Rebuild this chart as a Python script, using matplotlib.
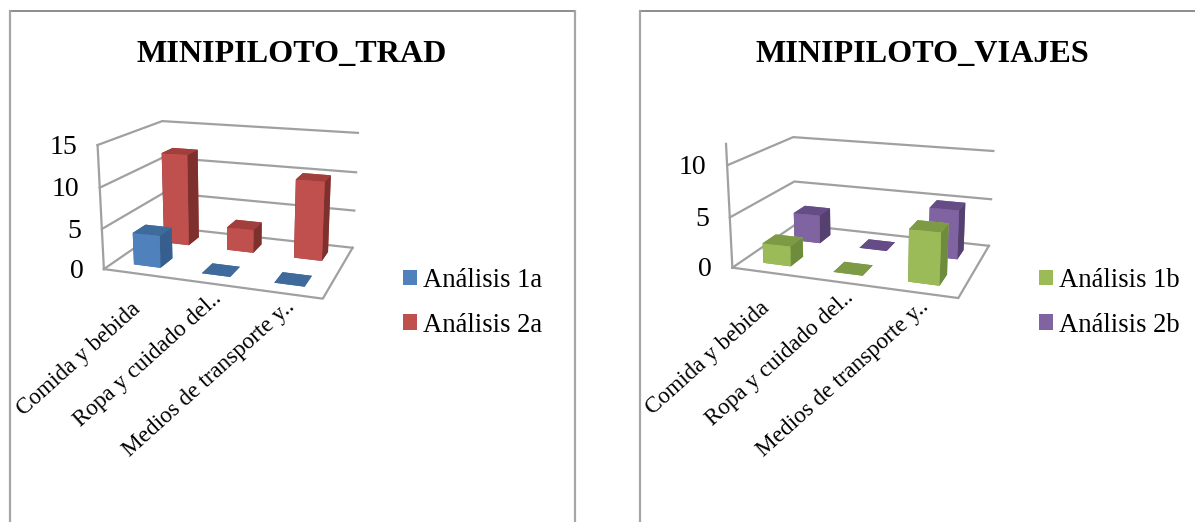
import matplotlib
matplotlib.use('Agg')
import matplotlib.pyplot as plt
from matplotlib.lines import Line2D
from matplotlib.patches import Patch
from mpl_toolkits.mplot3d import proj3d

plt.rcParams['font.family'] = ['Liberation Serif', 'DejaVu Serif']

W, H = 1195, 522

categories = ['Comida y bebida', 'Ropa y cuidado del..', 'Medios de transporte y..']

trad_titulo = 'MINIPILOTO_TRAD'
trad_series = ['Análisis 1a', 'Análisis 2a']
trad_1a = [4, 0, 0]
trad_2a = [12, 3, 10]
trad_ticks = [0, 5, 10, 15]
trad_max = 15

viajes_titulo = 'MINIPILOTO_VIAJES'
viajes_series = ['Análisis 1b', 'Análisis 2b']
viajes_1b = [2, 0, 5]
viajes_2b = [3, 0, 5]
viajes_ticks = [0, 5, 10]
viajes_max = 12

# front, top, side
BLUE = ('#4F81BD', '#3F6A9C', '#365E8E')
RED = ('#C0504D', '#A23F3D', '#7E302E')
GREEN = ('#9BBB59', '#7D9A44', '#6F8B3C')
PURPLE = ('#8064A2', '#654C87', '#55406F')

GRID = '#A0A0A0'
BAR_W = 0.4
PX = 0.72  # points per pixel at 100 dpi

# label end relative to its tick, in pixels
LABEL_SHIFT = [(0, -33), (11, -13), (9, -11)]


def face_colors(shades, n):
    front, top, side = shades
    # bar3d face order: -z, +z, -y, +y, -x, +x
    return [top, top, front, front, side, side] * n


def draw_chart(fig, rect_px, box_h, titulo, title_x, series, values, shades, ticks, zmax, leg_x):
    left_px, bottom_px, size = rect_px
    ax = fig.add_axes([left_px / W, bottom_px / H, size / W, size / H], projection='3d')
    ax.computed_zorder = False
    ax.set_axis_off()
    ax.patch.set_alpha(0)

    # walls and floor
    for t in ticks:
        ax.plot([0, 0, 3], [0, 2, 2], [t, t, t], color=GRID, lw=1.6, zorder=1)
    ax.plot([0, 3, 3], [0, 0, 2], [0, 0, 0], color=GRID, lw=1.6, zorder=1)
    ax.plot([0, 0], [0, 0], [0, zmax], color=GRID, lw=1.6, zorder=1)

    # back row first, so the front row covers it
    for row in [1, 0]:
        vals = values[row]
        xs = [i + 0.5 - BAR_W / 2 for i in range(len(vals))]
        ys = [row + 0.5 - BAR_W / 2] * len(vals)
        zs = [0] * len(vals)
        ax.bar3d(xs, ys, zs, BAR_W, BAR_W, vals, color=face_colors(shades[row], len(vals)),
                 shade=False, linewidth=0, zorder=3 - row + 1)

    ax.set_xlim(0, 3)
    ax.set_ylim(0, 2)
    ax.set_zlim(0, zmax)
    ax.set_box_aspect((219, 144, box_h))
    ax.view_init(elev=15.6, azim=-70.6)
    ax.set_proj_type('persp', focal_length=0.48)

    M = ax.get_proj()
    for t in ticks:
        px, py, _ = proj3d.proj_transform(0, 0, t, M)
        ax.annotate(str(t), (px, py), xytext=(-20.5 * PX, -2 * PX), textcoords='offset points',
                    ha='right', va='center', fontsize=20)
    # Text3D ignores rotation, so the category labels go on in 2D at the projected position
    for i, cat in enumerate(categories):
        px, py, _ = proj3d.proj_transform(i + 0.5, 0, 0, M)
        dx, dy = LABEL_SHIFT[i]
        ax.annotate(cat, (px, py), xytext=(dx * PX, dy * PX), textcoords='offset points',
                    rotation=42, rotation_mode='anchor', ha='right', va='center', fontsize=16.7)

    fig.text(title_x / W, 1 - 55 / H, titulo, ha='center', va='center',
             fontsize=23.1, fontweight='bold')

    handles = [Patch(facecolor=shades[k][0], edgecolor='none', label=series[k]) for k in range(2)]
    fig.legend(handles=handles, loc='upper left', bbox_to_anchor=(leg_x / W, 1 - 268 / H),
               frameon=False, fontsize=19.2, borderpad=0, borderaxespad=0,
               handlelength=0.53, handleheight=0.53, handletextpad=0.22, labelspacing=0.74)


def main():
    fig = plt.figure(figsize=(W / 100, H / 100), dpi=100, facecolor='white')

    # chart frames, open at the bottom
    top = dict(color='#8C8C8C', lw=1.4, transform=fig.transFigure)
    side = dict(color='#A6A6A6', lw=1.6, transform=fig.transFigure)
    y_top = 1 - 11 / H
    fig.add_artist(Line2D([10 / W, 575 / W], [y_top, y_top], **top))
    fig.add_artist(Line2D([640 / W, 1], [y_top, y_top], **top))
    for x in (10, 575, 640):
        fig.add_artist(Line2D([x / W, x / W], [0, y_top], **side))

    draw_chart(fig, (89, 178, 281), 124, trad_titulo, 292, trad_series, [trad_1a, trad_2a], [BLUE, RED],
               trad_ticks, trad_max, 403)
    draw_chart(fig, (718, 176, 288), 120, viajes_titulo, 922, viajes_series, [viajes_1b, viajes_2b], [GREEN, PURPLE],
               viajes_ticks, viajes_max, 1039)

    fig.savefig('out.png', dpi=100)
    plt.close(fig)


if __name__ == '__main__':
    main()
